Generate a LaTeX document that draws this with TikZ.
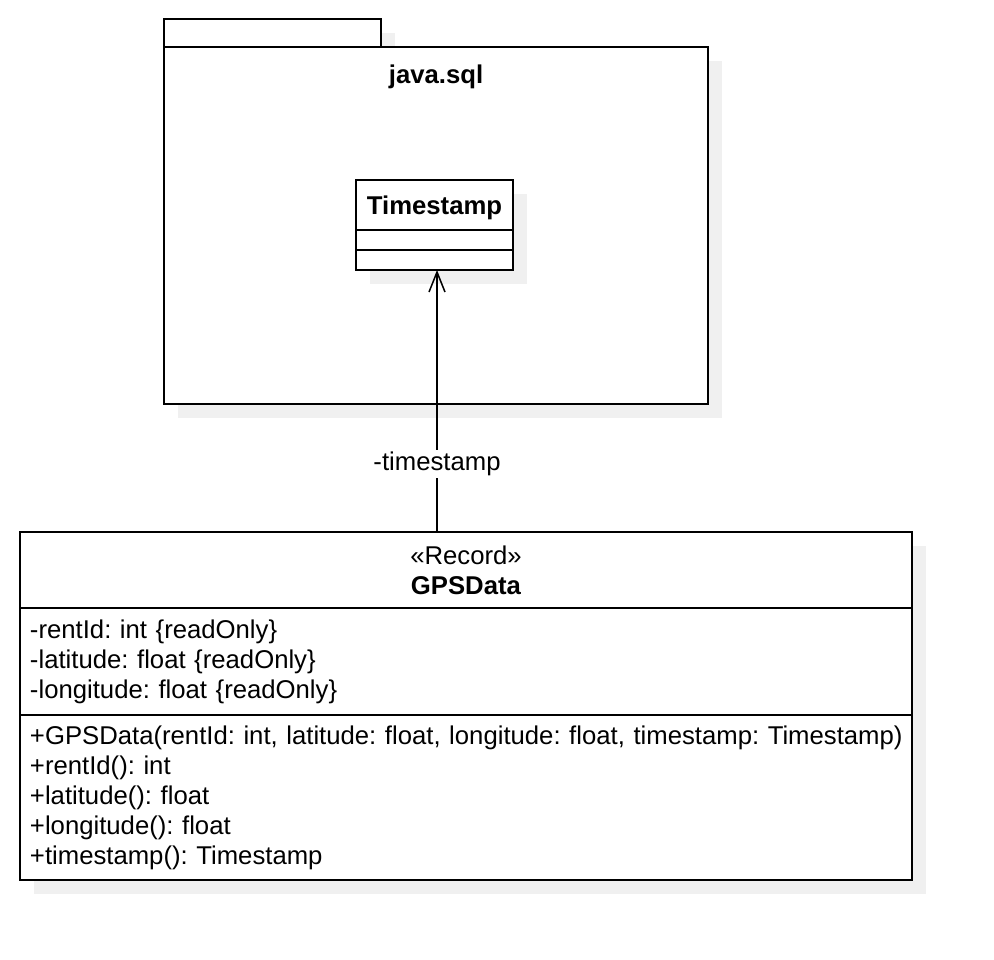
\documentclass[tikz,border=0pt]{standalone}
\usepackage{fontspec}
\setmainfont{Liberation Sans}
\usetikzlibrary{positioning,shadows,arrows.meta}
\frenchspacing

\tikzset{
  umlbox/.style={draw, fill=white, line width=2pt, outer sep=0pt, inner sep=0pt,
    drop shadow={shadow xshift=14pt, shadow yshift=-14pt, fill=black!6, opacity=1}},
  plaintext/.style={font=\fontsize{25.7}{30}\selectfont},
  boldtext/.style={font=\fontsize{25.7}{30}\selectfont\bfseries},
  members/.style={plaintext, minimum width=892pt, text width=872pt, align=left},
  assoc/.style={line width=1.5pt, -{Straight Barb[length=20pt, width=16pt, line width=1.5pt]}}
}

\begin{document}
\begin{tikzpicture}[x=1pt, y=-1pt]
  \useasboundingbox (0,0) rectangle (994,960);

  % package java.sql
  \node[umlbox, anchor=north west, minimum width=217pt, minimum height=28pt] (pkgTab) at (164,19) {};
  \node[umlbox, anchor=north west, minimum width=544pt, minimum height=357pt] (pkg) at (pkgTab.south west) {};
  \node[boldtext] (pkgName) at ([yshift=-30pt]pkg.north) {java.sql};

  % class Timestamp
  \node[umlbox, boldtext, text depth=0pt, anchor=north west, minimum width=157pt, minimum height=50pt] (tsName) at (356,180) {Timestamp};
  \node[umlbox, minimum width=157pt, minimum height=20pt, below=0pt of tsName] (tsAttrs) {};
  \node[umlbox, minimum width=157pt, minimum height=20pt, below=0pt of tsAttrs] (tsOps) {};

  % record GPSData
  \node[umlbox, plaintext, anchor=north west, minimum width=892pt, minimum height=76pt, align=center] (gpsHead) at (20,532) {«Record»\\\textbf{GPSData}};
  \node[umlbox, members, minimum height=107pt, below=0pt of gpsHead] (gpsAttrs)
    {-rentId: int \{readOnly\}\\-latitude: float \{readOnly\}\\-longitude: float \{readOnly\}};
  \node[umlbox, members, minimum height=165pt, below=0pt of gpsAttrs] (gpsOps)
    {\mbox{+GPSData(rentId: int, latitude: float, longitude: float, timestamp: Timestamp)}\\+rentId(): int\\+latitude(): float\\+longitude(): float\\+timestamp(): Timestamp};

  \coordinate (tsEnd) at ([xshift=2.5pt]tsOps.south);
  \draw[assoc] (gpsHead.north -| tsEnd) -- node[pos=0.26, plaintext, fill=white, inner sep=2pt] (roleLbl) {-timestamp} (tsEnd);
\end{tikzpicture}
\end{document}
